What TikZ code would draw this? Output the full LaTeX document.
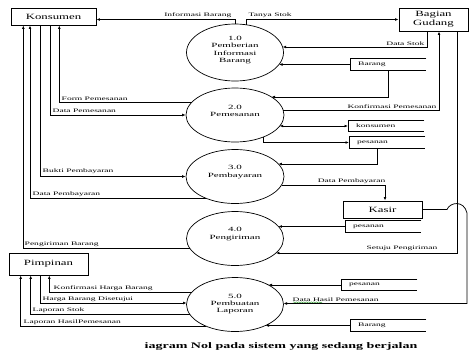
\documentclass[tikz,border=0pt]{standalone}
\usepackage{fontspec}
\setmainfont{Liberation Serif}
\newfontfamily\entfont[FakeStretch=1.6]{Liberation Serif}
\newfontfamily\procfont[FakeStretch=1.72]{Liberation Serif}
\newfontfamily\lblfont[FakeStretch=1.8]{Liberation Serif}
\newfontfamily\capfont[FakeStretch=1.65]{Liberation Serif}
\usetikzlibrary{shapes.geometric,arrows.meta,calc,decorations.pathmorphing}
\definecolor{spellgreen}{RGB}{40,150,40}
\tikzset{
  ent/.style={draw, line width=0.9pt, rectangle, inner sep=0pt, align=center,
    font=\entfont\fontsize{8}{8.7}\selectfont},
  proc/.style={draw, ellipse, line width=0.7pt, inner sep=0pt},
  ptxt/.style={font=\procfont\fontsize{6.4}{7.3}\selectfont, align=center, inner sep=0pt},
  store/.style={anchor=west, inner ysep=0pt, inner xsep=8pt, minimum height=11pt,
    text width=60pt, align=left, font=\lblfont\fontsize{5.3}{6}\selectfont},
  storeline/.style={line width=0.9pt},
  flow/.style={line width=0.75pt, -{Latex[length=3.5pt,width=2.8pt]}},
  biflow/.style={line width=0.75pt, {Latex[length=3.5pt,width=2.8pt]}-{Latex[length=3.5pt,width=2.8pt]}},
  lbl/.style={font=\lblfont\fontsize{5.3}{6}\selectfont, inner sep=0.5pt},
}
\begin{document}
\begin{tikzpicture}[x=1pt,y=-1pt]
\useasboundingbox (0,0) rectangle (470,354);

% external entities
\node[ent, minimum width=85pt, minimum height=17pt] (kons) at (53.5,16.5) {Konsumen};
\node[ent, minimum width=69pt, minimum height=23pt] (gud) at (433.5,19.5) {Bagian\\Gudang};
\node[ent, minimum width=79pt, minimum height=22pt] (pim) at (48.5,264) {Pimpinan};
\node[ent, minimum width=79pt, minimum height=17pt] (kasir) at (382.5,209.5) {Kasir};

% processes
\node[proc, minimum width=97pt, minimum height=57pt] (p1) at (235,52.5) {};
\node[proc, minimum width=98pt, minimum height=54pt] (p2) at (235,115) {};
\node[proc, minimum width=98pt, minimum height=54pt] (p3) at (235,176.5) {};
\node[proc, minimum width=97pt, minimum height=54pt] (p4) at (235,238.5) {};
\node[proc, minimum width=97pt, minimum height=54pt] (p5) at (235,304.5) {};
\node[ptxt] (t1) at (235,50) {1.0\\Pemberian\\Informasi\\Barang};
\node[ptxt] (t2) at (235,111) {2.0\\Pemesanan};
\node[ptxt] (t3) at (235,172) {3.0\\Pembayaran};
\node[ptxt] (t4) at (235,234) {4.0\\Pengiriman};
\node[ptxt] (t5) at (235,304) {5.0\\Pembuatan\\Laporan};

% data stores
\node[store] (s1) at (350,64.5) {Barang};
\node[store] (s2) at (348,126) {konsumen};
\node[store] (s3) at (349,142.5) {pesanan};
\node[store] (s4) at (345,226.5) {pesanan};
\node[store] (s5) at (341,285) {pesanan};
\node[store] (s6) at (350,325.5) {Barang};
\foreach \s in {s1,s2,s3,s4,s5,s6}
  \draw[storeline] (\s.north east) -- (\s.north west) -- (\s.south west) -- (\s.south east);

% flows, right side
\draw[flow] (p1.north) |- ($(kons.east)+(0,3)$);
\node[lbl, anchor=south east] (l1) at (232,18.5) {Informasi Barang};
\draw[flow] ($(p1.center)+(11,-27.7)$) |- (gud.west);
\node[lbl, anchor=south west] (l2) at (248,18.5) {Tanya Stok};
\draw[flow] ($(gud.south)+(-6.5,0)$) |- ($(p1.center)+(47.6,-5.5)$);
\node[lbl, anchor=south east] (l3) at (425,46) {Data Stok};
\draw[flow] (s1.west) -- ($(p1.center)+(44,12)$);
\draw[flow] (s1.south) |- ($(p2.center)+(36.5,-18)$);
\draw[flow] ($(p2.center)+(48.2,-5)$) -| ($(gud.south)+(5.5,0)$);
\node[lbl, anchor=south east] (l4) at (437,109) {Konfirmasi Pemesanan};
\draw[biflow] ($(p2.center)+(44.7,11)$) -- (s2.west);
\draw[flow] ($(p2.center)+(28,22.2)$) |- (s3.west);
\draw[flow] ($(s3.south)+(-10,0)$) |- ($(p3.center)+(43.4,-12.5)$);
\draw[flow] ($(p3.center)+(46.5,8.5)$) -| ($(kasir.north)+(2.5,0)$);
\node[lbl, anchor=south east] (l5) at (386,184) {Data Pembayaran};
\draw[flow] (s4.west) -- ($(p4.center)+(43.4,-12)$);
\draw[flow] ($(gud.south)+(23.5,0)$) |- ($(p4.center)+(40.9,14.5)$);
\node[lbl, anchor=south east] (l6) at (438,251.5) {Setuju Pengiriman};
\coordinate (hopA) at (447,209.5);
\coordinate (hopB) at (467,213);
\draw[flow] (kasir.east) -- (hopA) .. controls (450,202) and (464,200) .. (hopB) |- ($(p5.center)+(48.5,-1)$);
\node[lbl, anchor=south west] (l7) at (292,302) {Data Hasil Pemesanan};
\draw[spellgreen, line width=0.4pt, decorate, decoration={snake, amplitude=0.5pt, segment length=2.5pt}]
  ($(l7.south west)+(1,0.3)$) -- ($(l7.south west)+(30,0.3)$);
\draw[flow] (s5.west) -- ($(p5.center)+(33.5,-19.5)$);
\draw[flow] (s6.west) -- ($(p5.center)+(30.5,21)$);

% flows, Konsumen side
\draw[flow] ($(p2.center)+(-43.2,-12.7)$) -| ($(kons.south)+(5.8,0)$);
\node[lbl, anchor=south west] (l8) at (61,101) {Form Pemesanan};
\draw[flow] ($(kons.south)+(-3.5,0)$) |- (p2.west);
\node[lbl, anchor=south west] (l9) at (52,113) {Data Pemesanan};
\draw[flow] ($(kons.south)+(-12.8,0)$) |- (p3.west);
\node[lbl, anchor=south west] (l10) at (42,174.5) {Bukti Pembayaran};
\draw[flow] ($(p3.center)+(-28.9,21.8)$) -| ($(kons.south)+(-23.5,0)$);
\node[lbl, anchor=south west] (l11) at (32,197) {Data Pembayaran};
\draw[flow] ($(p4.center)+(-45.2,9.8)$) -| ($(kons.south)+(-30.2,0)$);
\node[lbl, anchor=south west] (l12) at (24,247) {Pengiriman Barang};

% flows, Pimpinan side
\draw[flow] ($(p5.center)+(-43,-12.5)$) -| ($(pim.south)+(0.8,0)$);
\node[lbl, anchor=south west] (l13) at (53,291) {Konfirmasi Harga Barang};
\draw[flow] ($(pim.south)+(-8.5,0)$) |- ($(p5.center)+(-48.4,-1.5)$);
\node[lbl, anchor=south west] (l14) at (42,302) {Harga Barang Disetujui};
\draw[flow] ($(p5.center)+(-45.4,9.5)$) -| ($(pim.south)+(-17.8,0)$);
\node[lbl, anchor=south west] (l15) at (32,313) {Laporan Stok};
\draw[flow] ($(p5.center)+(-29.3,21.5)$) -| ($(pim.south)+(-27.8,0)$);
\node[lbl, anchor=south west] (l16) at (23,325) {Laporan HasilPemesanan};

% caption
\node[font=\capfont\bfseries\fontsize{8.5}{9}\selectfont, inner sep=0pt] (cap) at (281,346)
  {iagram Nol pada sistem yang sedang berjalan};
\end{tikzpicture}
\end{document}
